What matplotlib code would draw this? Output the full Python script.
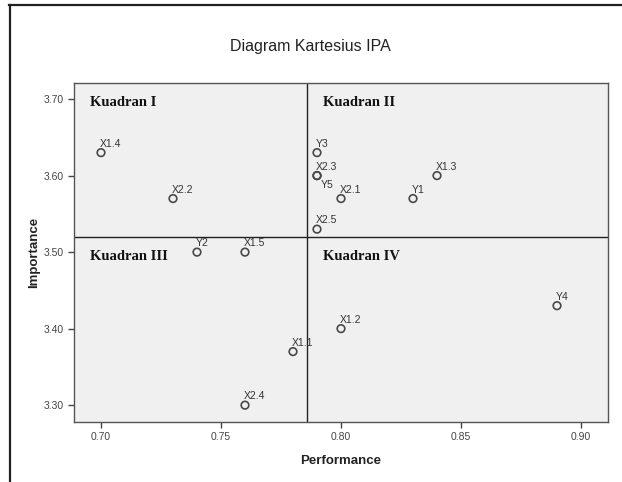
import matplotlib
matplotlib.use("Agg")
import matplotlib.pyplot as plt
from matplotlib.lines import Line2D
import numpy as np

labels = ["X1.1", "X1.2", "X1.3", "X1.4", "X1.5", "X2.1", "X2.2", "X2.3",
          "X2.4", "X2.5", "Y1", "Y2", "Y3", "Y4", "Y5"]
performance = [0.78, 0.80, 0.84, 0.70, 0.76, 0.80, 0.73, 0.79,
               0.76, 0.79, 0.83, 0.74, 0.79, 0.89, 0.79]
importance = [3.37, 3.40, 3.60, 3.63, 3.50, 3.57, 3.57, 3.60,
              3.30, 3.53, 3.57, 3.50, 3.63, 3.43, 3.60]
x_ticks = [0.70, 0.75, 0.80, 0.85, 0.90]
y_ticks = [3.30, 3.40, 3.50, 3.60, 3.70]
quadrant_names = ["Kuadran I", "Kuadran II", "Kuadran III", "Kuadran IV"]

x_mean = np.mean(performance)
y_mean = np.mean(importance)

sans = ["Liberation Sans", "DejaVu Sans"]
serif = ["Liberation Serif", "DejaVu Serif"]

fig = plt.figure(figsize=(6.22, 4.82), dpi=100)
fig.patch.set_facecolor("white")
ax = fig.add_axes([74/622, 60/482, 534/622, 339/482])
ax.set_facecolor("#f0f0f0")

ax.scatter(performance, importance, s=30, facecolors="none",
           edgecolors="#484848", linewidths=1.2, zorder=3)

for lab, x, y in zip(labels, performance, importance):
    if lab == "Y5":
        ax.annotate(lab, (x, y), xytext=(3, -7), textcoords="offset points",
                    ha="left", va="center", fontsize=7.5, color="#333333",
                    family=sans)
    else:
        ax.annotate(lab, (x, y), xytext=(-1, 6.5), textcoords="offset points",
                    ha="left", va="center", fontsize=7.5, color="#333333",
                    family=sans)

ax.axvline(x_mean, color="#222222", lw=1.0, zorder=2)
ax.axhline(y_mean, color="#222222", lw=1.0, zorder=2)

qpos = [(0.6955, 3.696), (0.7925, 3.696), (0.6955, 3.494), (0.7925, 3.494)]
for name, (qx, qy) in zip(quadrant_names, qpos):
    ax.text(qx, qy, name, ha="left", va="center", fontsize=10.5,
            fontweight="bold", family=serif, color="#111111")

ax.set_xlim(0.68875, 0.91125)
ax.set_ylim(3.278, 3.721)
ax.set_xticks(x_ticks)
ax.set_yticks(y_ticks)
ax.set_xticklabels([f"{v:.2f}" for v in x_ticks])
ax.set_yticklabels([f"{v:.2f}" for v in y_ticks])
ax.tick_params(direction="out", length=4, width=1, color="#444444",
               labelsize=7.5, labelcolor="#444444", pad=3)
for lbl in ax.get_xticklabels() + ax.get_yticklabels():
    lbl.set_family(sans)
for sp in ax.spines.values():
    sp.set_color("#555555")
    sp.set_linewidth(1.0)

ax.set_xlabel("Performance", fontsize=9.5, fontweight="bold", family=sans,
              color="#222222", labelpad=9.5)
ax.set_ylabel("Importance", fontsize=9.5, fontweight="bold", family=sans,
              color="#222222", labelpad=3)

fig.text(310/622, 1 - 46/482, "Diagram Kartesius IPA", ha="center",
         va="center", fontsize=11.5, family=sans, color="#222222")

# outer frame lines (top and left)
fig.add_artist(Line2D([9/622, 1.0], [1 - 5/482, 1 - 5/482],
                      transform=fig.transFigure, color="#222222", lw=1.6))
fig.add_artist(Line2D([10/622, 10/622], [0, 1 - 5/482],
                      transform=fig.transFigure, color="#222222", lw=1.6))

fig.savefig("out.png", dpi=100)
